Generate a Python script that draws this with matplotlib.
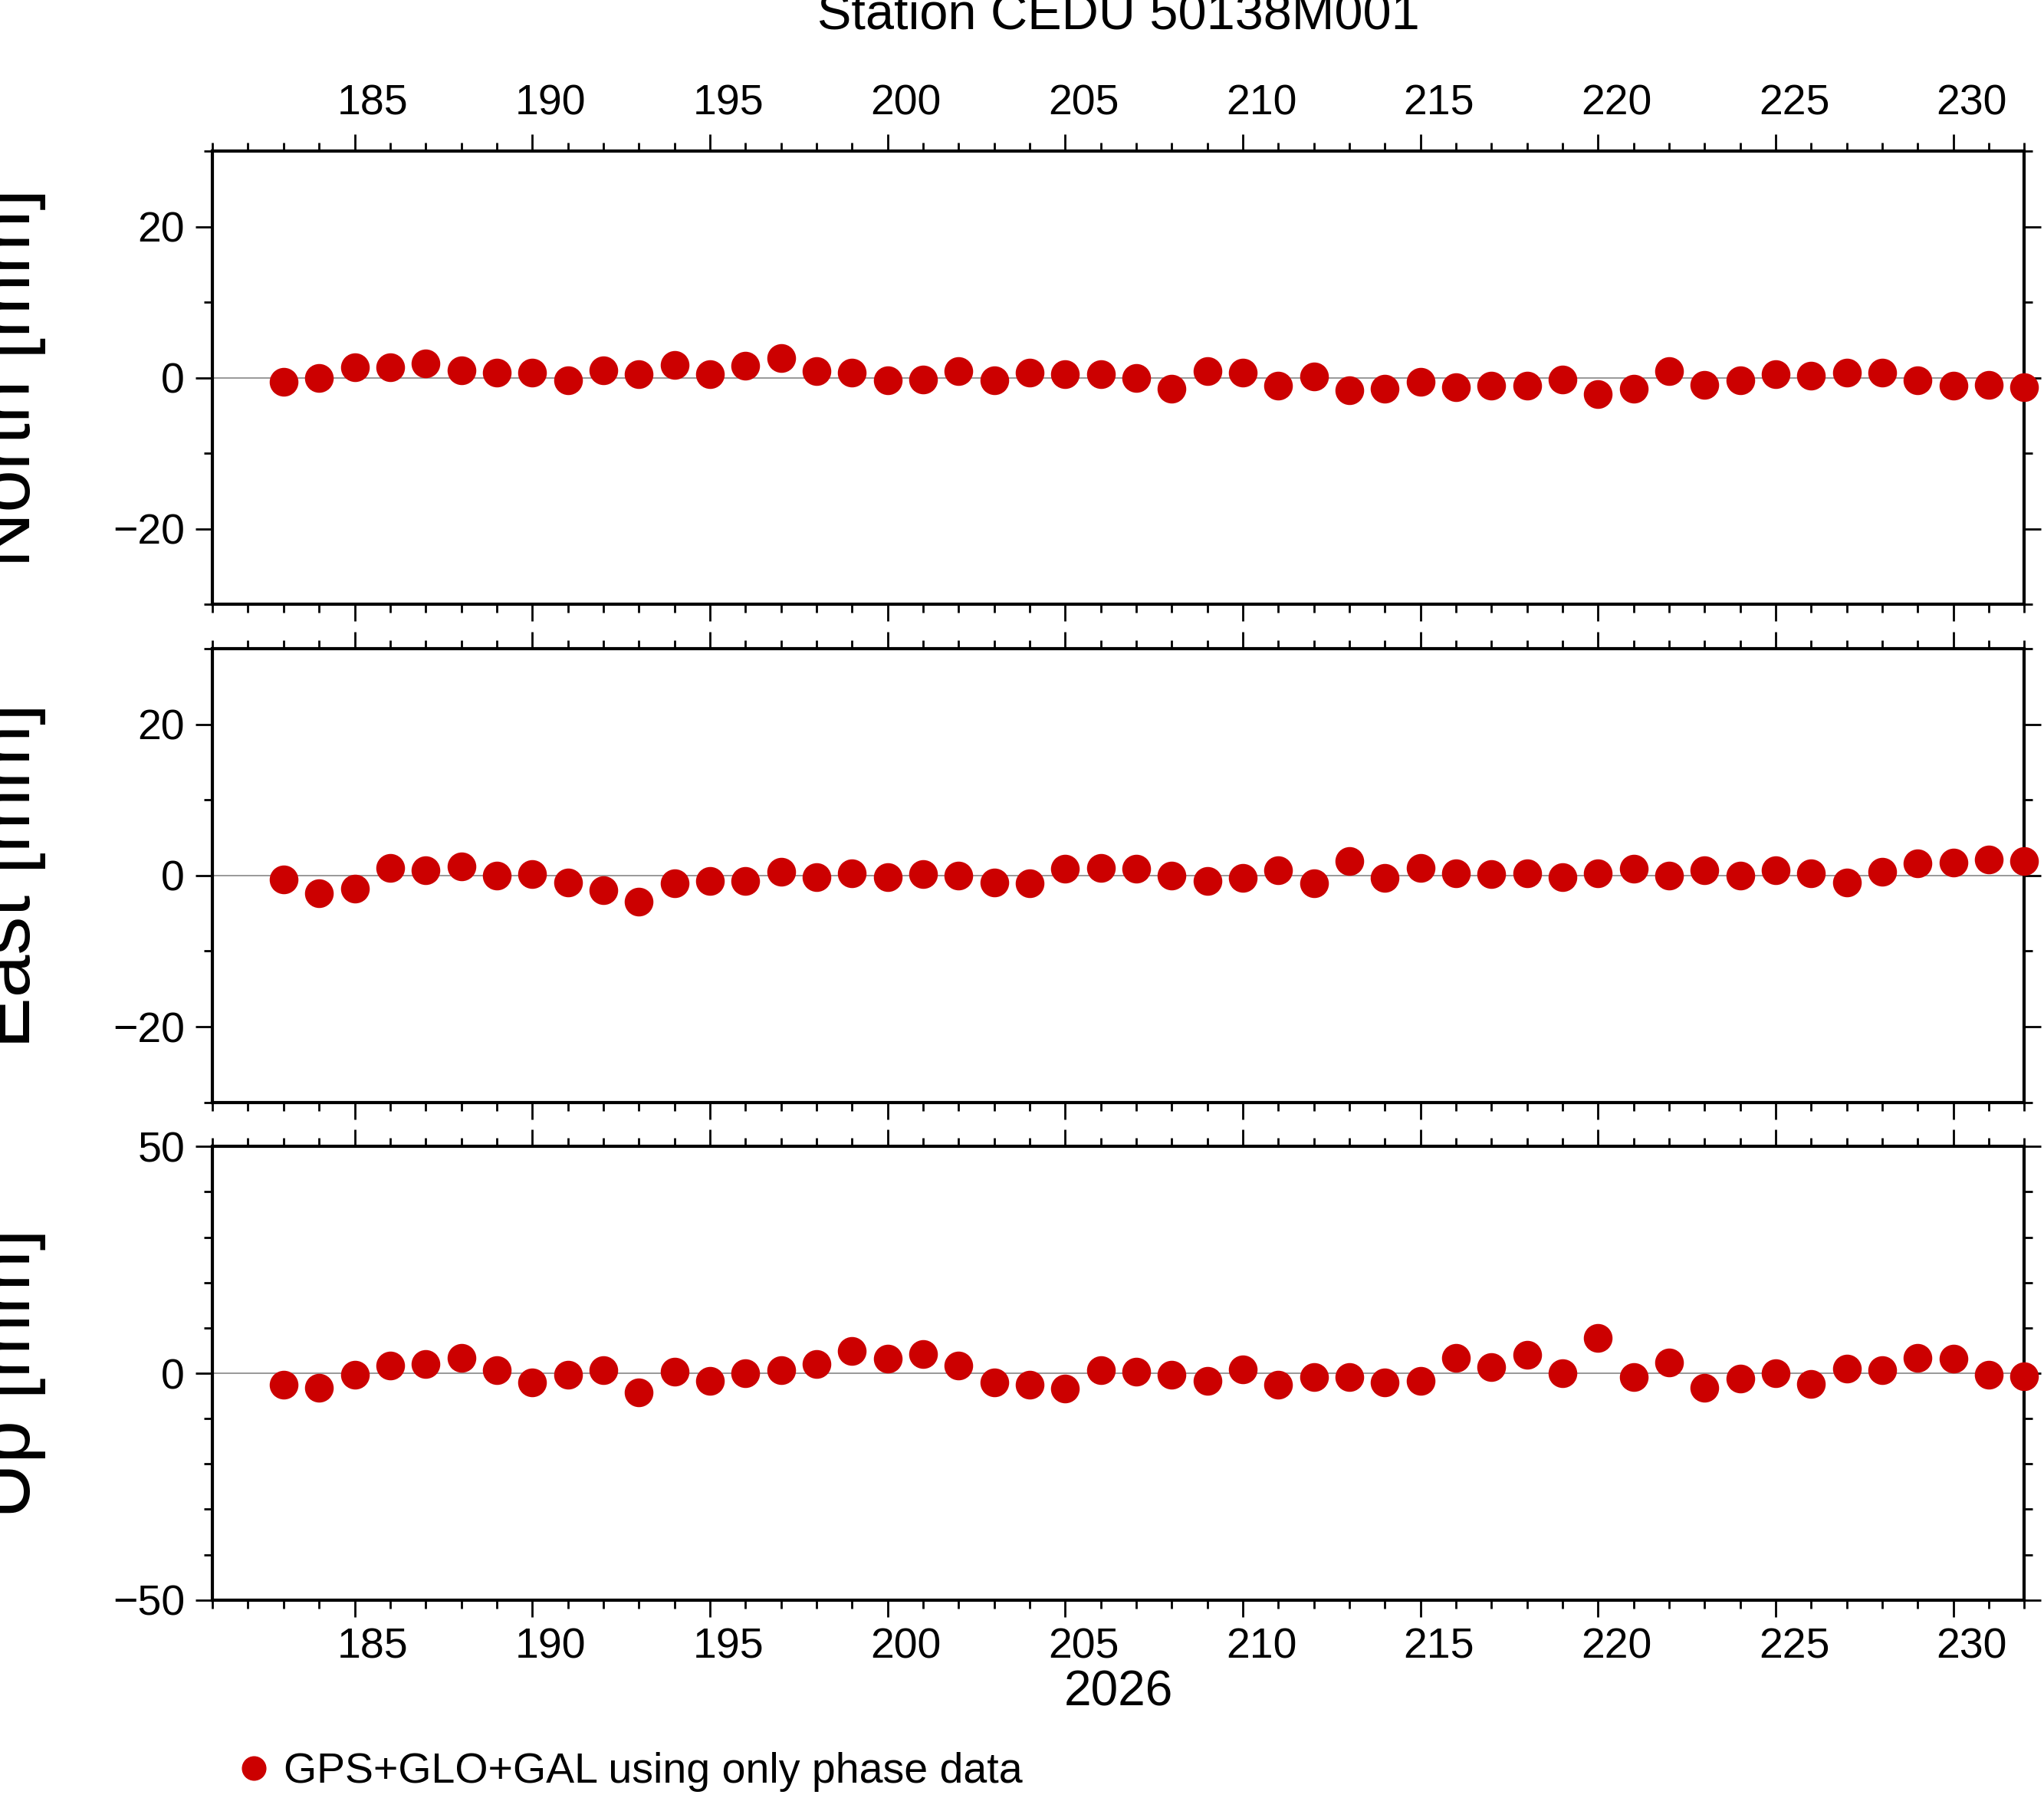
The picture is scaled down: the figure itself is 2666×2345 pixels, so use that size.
import numpy as np
import matplotlib.pyplot as plt
from matplotlib.ticker import MultipleLocator
from matplotlib.transforms import ScaledTranslation

plt.rcParams['font.family'] = ['Liberation Sans', 'DejaVu Sans']

days = list(range(183, 233))
north = [-0.5, 0, 1.4, 1.4, 1.9, 1.0, 0.7, 0.7, -0.3, 1.0,
         0.5, 1.7, 0.5, 1.6, 2.6, 0.9, 0.7, -0.3, -0.2, 0.9,
         -0.3, 0.7, 0.5, 0.5, 0, -1.4, 0.9, 0.7, -1.0, 0.2,
         -1.6, -1.4, -0.5, -1.2, -1.0, -1.0, -0.2, -2.2, -1.4, 0.9,
         -0.9, -0.3, 0.5, 0.3, 0.7, 0.7, -0.3, -1.0, -0.9, -1.2]
east = [-0.5, -2.3, -1.7, 1.0, 0.7, 1.2, 0, 0.2, -0.9, -1.9,
        -3.5, -1.0, -0.7, -0.7, 0.5, -0.2, 0.3, -0.2, 0.2, 0,
        -0.9, -1.0, 0.9, 1.0, 0.9, 0, -0.7, -0.3, 0.7, -1.0,
        1.9, -0.3, 1.0, 0.3, 0.2, 0.3, -0.2, 0.3, 0.9, 0,
        0.7, 0, 0.7, 0.3, -0.9, 0.5, 1.6, 1.7, 2.1, 1.9]
up = [-2.6, -3.2, -0.3, 1.7, 2.0, 3.4, 0.6, -2.0, -0.3, 0.6,
      -4.3, 0.3, -1.7, 0, 0.6, 2.0, 4.9, 3.2, 4.3, 1.7,
      -2.0, -2.6, -3.4, 0.6, 0.3, -0.3, -1.7, 0.9, -2.6, -0.9,
      -0.9, -2.0, -1.7, 3.4, 1.4, 4.0, 0, 7.8, -0.9, 2.3,
      -3.2, -1.1, 0, -2.3, 1.1, 0.6, 3.4, 3.2, -0.3, -0.6]

panels = [("North [mm]", north, 30, 20, 10),
          ("East [mm]", east, 30, 20, 10),
          ("Up [mm]", up, 50, 50, 10)]

H = 1380.0
fig = plt.figure(figsize=(26.66, 23.45), dpi=100)
left, right = 163 / 1568, 1553 / 1568
tops = [116, 498, 880]
red = "#cc0000"
# GMT-style labels sit a little right of their ticks
shift = ScaledTranslation(0.24, 0, fig.dpi_scale_trans)

for i, (label, vals, lim, major, minor) in enumerate(panels):
    top = tops[i]
    ax = fig.add_axes([left, 1 - (top + 348) / H, right - left, 348 / H])
    ax.axhline(0, color="#888888", lw=1.2, zorder=1)
    ax.plot(days, vals, "o", color=red, ms=26, zorder=3, clip_on=False,
            label="GPS+GLO+GAL using only phase data")
    ax.set_xlim(181, 232)
    ax.set_ylim(-lim, lim)
    ax.xaxis.set_major_locator(MultipleLocator(5))
    ax.xaxis.set_minor_locator(MultipleLocator(1))
    ax.yaxis.set_major_locator(MultipleLocator(major))
    ax.yaxis.set_minor_locator(MultipleLocator(minor))
    ax.tick_params(which="both", direction="out", top=True, right=True,
                   width=2, labelsize=40, pad=10)
    ax.tick_params(which="major", length=16)
    ax.tick_params(which="minor", length=8)
    ax.tick_params(axis="x", labelbottom=(i == 2), labeltop=(i == 0))
    for t in ax.get_xticklabels():
        t.set_transform(t.get_transform() + shift)
    for sp in ax.spines.values():
        sp.set_linewidth(3)
    ax.set_ylabel(label, fontsize=72)
    ax.yaxis.set_label_coords(-0.092, 0.5)
    if i == 0:
        ax.set_title("Station CEDU 50138M001", fontsize=48, pad=115)
    if i == 2:
        ax.set_xlabel("2026", fontsize=46, labelpad=2)
        handles, labels = ax.get_legend_handles_labels()

fig.legend(handles, labels, loc="center left", frameon=False, fontsize=40,
           bbox_to_anchor=(0.093, 1 - 1360 / H), handletextpad=0.1,
           handlelength=1.2, markerscale=0.85)
fig.savefig("out.png", dpi=100)
